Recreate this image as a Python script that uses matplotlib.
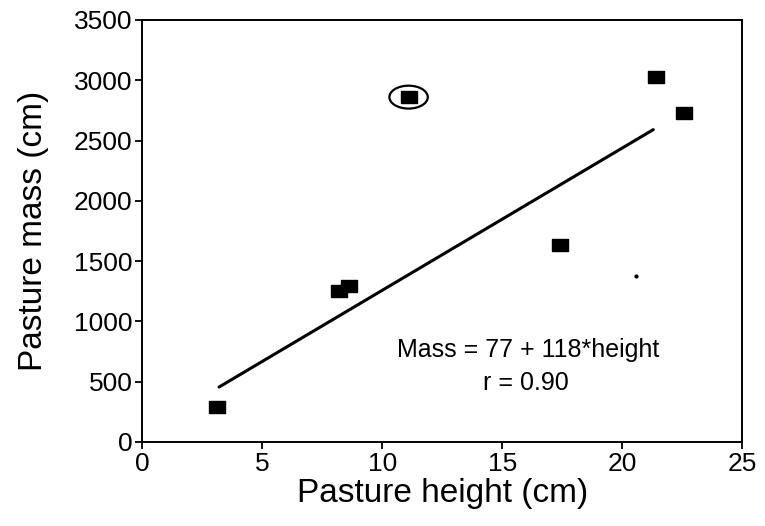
import numpy as np
import matplotlib
matplotlib.use("Agg")
import matplotlib.pyplot as plt
from matplotlib.patches import Ellipse

# data
height = [3.1, 8.2, 8.6, 11.1, 17.4, 21.4, 22.6]
mass = [290, 1255, 1295, 2860, 1630, 3030, 2730]
circled = (11.1, 2860)
stray_dot = (20.6, 1375)

# fitted line: Mass = 77 + 118*height
intercept = 77
slope = 118
fit_x = [3.2, 21.3]

xticks = [0, 5, 10, 15, 20, 25]
yticks = [0, 500, 1000, 1500, 2000, 2500, 3000, 3500]

plt.rcParams['font.family'] = ['Liberation Sans', 'DejaVu Sans']

fig = plt.figure(figsize=(7.65, 5.26), dpi=100)
ax = fig.add_axes([0.186, 0.160, 0.784, 0.802])

# slightly wide squares like the print
rect = [(-1, -0.8), (1, -0.8), (1, 0.8), (-1, 0.8), (-1, -0.8)]
ax.plot(height, mass, linestyle='none', marker=rect, markersize=11,
        color='black')

fx = np.array(fit_x)
ax.plot(fx, intercept + slope*fx, color='black', lw=2.2,
        solid_capstyle='round')

ax.add_patch(Ellipse(circled, 1.6, 190, fill=False, lw=1.6, color='black'))
ax.plot(*stray_dot, marker='o', markersize=2, color='black')

ax.text(16.1, 760, 'Mass = 77 + 118*height', ha='center', va='center',
        fontsize=18)
ax.text(16.0, 490, 'r = 0.90', ha='center', va='center', fontsize=18)

ax.set_xlim(0, 25)
ax.set_ylim(0, 3500)
ax.set_xticks(xticks)
ax.set_yticks(yticks)
ax.tick_params(direction='out', length=5, width=1.3, labelsize=19, pad=2,
               top=False, right=False)
for s in ax.spines.values():
    s.set_linewidth(1.4)

ax.set_xlabel('Pasture height (cm)', fontsize=24, labelpad=2)
ax.set_ylabel('Pasture mass (cm)', fontsize=24, labelpad=18)

fig.savefig('out.png', dpi=100)
